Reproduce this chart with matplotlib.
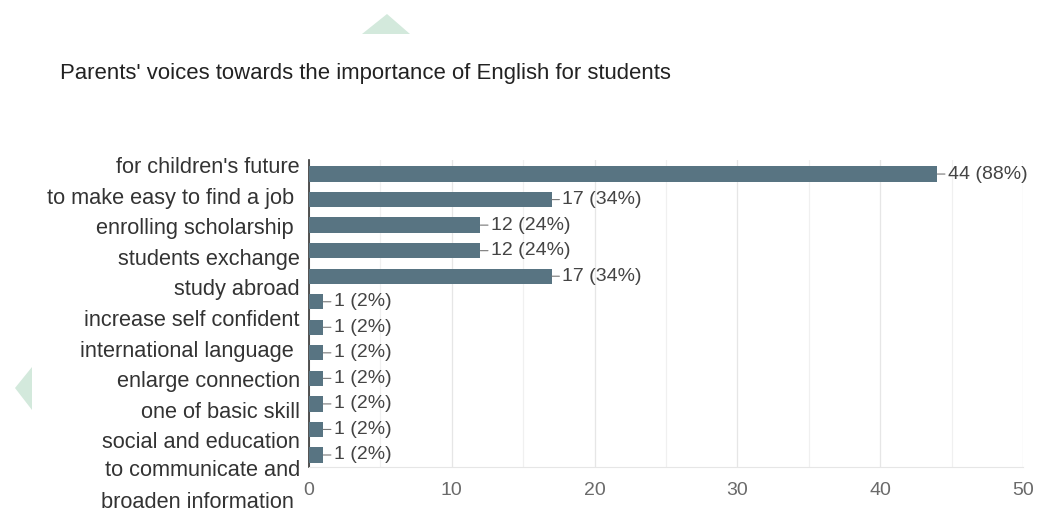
import matplotlib.pyplot as plt
from matplotlib.patches import Polygon

# --- data ---
reasons = [
    "for children's future",
    "to make easy to find a job ",
    "enrolling scholarship ",
    "students exchange",
    "study abroad",
    "increase self confident",
    "international language ",
    "enlarge connection",
    "one of basic skill",
    "social and education",
    "to communicate and\nbroaden information ",
]
bar_counts = [44, 17, 12, 12, 17, 1, 1, 1, 1, 1, 1, 1]
n_respondents = 50
x_ticks = [0, 10, 20, 30, 40, 50]
title = "Parents' voices towards the importance of English for students"

plt.rcParams["font.family"] = ["Liberation Sans", "DejaVu Sans"]

W, H = 1044, 514
fig = plt.figure(figsize=(W / 100, H / 100), dpi=100, facecolor="white")

def box(x0, y0, x1, y1):
    # pixel box -> figure fraction
    return [x0 / W, 1 - y1 / H, (x1 - x0) / W, (y1 - y0) / H]

# watermark shapes
for pts in ([(387, 14), (362, 34), (410, 34)], [(15, 388), (32, 367), (32, 410)]):
    fig.patches.append(Polygon([(x / W, 1 - y / H) for x, y in pts], closed=True,
                               transform=fig.transFigure, facecolor="#d3e9dc",
                               edgecolor="none", zorder=0))

fig.text(60 / W, 1 - 74 / H, title, ha="left", va="center", fontsize=15.9, color="#222222")

# --- bars ---
ax = fig.add_axes(box(309, 160, 1023, 467))
ypos = list(range(len(bar_counts)))
ax.barh(ypos, bar_counts, height=0.6, color="#587482", zorder=3)
ax.set_xlim(0, 50)
ax.set_ylim(len(bar_counts) - 0.53, -0.55)
ax.set_xticks(x_ticks)
ax.set_xticks(range(5, 50, 10), minor=True)
ax.grid(axis="x", which="major", color="#e6e6e6", lw=0.9, zorder=0)
ax.grid(axis="x", which="minor", color="#f0f0f0", lw=0.9, zorder=0)
ax.set_yticks([])
for s in ["top", "right"]:
    ax.spines[s].set_visible(False)
ax.spines["bottom"].set_color("#e6e6e6")
ax.spines["left"].set_color("#333333")
ax.spines["left"].set_linewidth(1.2)
ax.tick_params(axis="x", which="both", length=0, pad=11, labelsize=14, labelcolor="#6a6a6a")

for y, v in zip(ypos, bar_counts):
    ax.annotate(f"{v} ({round(v / n_respondents * 100)}%)", xy=(v, y), xytext=(7.5, 0),
                textcoords="offset points", ha="left", va="center", fontsize=14,
                color="#444444", zorder=4,
                arrowprops=dict(arrowstyle="-", color="#777777", lw=0.8,
                                shrinkA=0, shrinkB=0))

# --- category labels (own axis, one slot per text line) ---
line_pos, start = [], 0
for r in reasons:
    n = r.count("\n") + 1
    line_pos.append(start + (n - 1) / 2)
    start += n
slot = 30.6
lab = fig.add_axes(box(300, 165 - slot / 2, 304, 165 + slot * (start - 0.5)))
lab.set_ylim(start - 0.5, -0.5)
lab.set_xlim(0, 1)
lab.set_yticks(line_pos)
lab.set_yticklabels(reasons, fontsize=15.7, color="#333333", linespacing=1.68)
lab.tick_params(axis="y", length=0, pad=0)
lab.tick_params(axis="x", bottom=False, labelbottom=False)
lab.patch.set_visible(False)
for s in lab.spines.values():
    s.set_visible(False)
lab.get_yticklabels()[-1].set_va("center")

fig.savefig("out.png", dpi=100, facecolor="white")
